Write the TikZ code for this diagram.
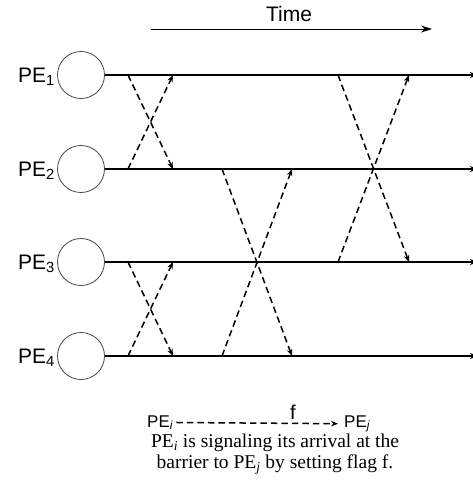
\documentclass[tikz,border=0pt]{standalone}
\usepackage{fontspec}
\setmainfont{Liberation Serif}
\setsansfont{Liberation Sans}
\usetikzlibrary{arrows.meta}
\definecolor{ring}{RGB}{70,70,70}

\begin{document}
\begin{tikzpicture}[x=1pt,y=-1pt,>={Stealth[length=7pt,width=5.5pt]},
  pe/.style={circle,draw=ring,line width=.8pt,minimum size=47pt,inner sep=0pt},
  lbl/.style={font=\sffamily\fontsize{21}{21}\selectfont,inner sep=0pt,anchor=base east},
  proc/.style={line width=1.8pt},
  flag/.style={->,line width=1.5pt,dash pattern=on 6.5pt off 4pt},
  note/.style={font=\fontsize{19.5}{15}\selectfont,inner sep=0pt,anchor=base}]
\useasboundingbox (0,0) rectangle (472,500);
\node[font=\sffamily\fontsize{21}{21}\selectfont,inner sep=0pt,anchor=base] (time) at (289,22) {Time};
\coordinate (t0) at (151,29);
\coordinate (t1) at (432,29);
\draw[-{Stealth[length=11pt,width=7pt]},line width=.8pt] (t0)--(t1);
\foreach \i/\y in {1/75,2/169,3/262,4/356} {
  \node[pe] (pe\i) at (81,\y) {};
  \node[lbl] (lbl\i) at (55,\y+7.5) {PE\textsubscript{\i}};
  \coordinate (end\i) at (478,\y);
  \draw[proc,-{Stealth[length=8pt,width=6pt]}] (pe\i) -- (end\i);
  \coordinate (a\i) at (128,\y);
  \coordinate (b\i) at (173,\y);
  \coordinate (c\i) at (222,\y);
  \coordinate (d\i) at (292,\y);
  \coordinate (e\i) at (338,\y);
  \coordinate (f\i) at (409,\y);
}
\foreach \s/\t in {a1/b2,a2/b1,a3/b4,a4/b3,c2/d4,c4/d2,e1/f3,e3/f1} {\draw[flag] (\s)--(\t);}
\node[font=\sffamily\fontsize{17}{17}\selectfont,inner sep=0pt,anchor=base west] (pei) at (147,427) {PE\textsubscript{\textit{i}}};
\node[font=\sffamily\fontsize{17}{17}\selectfont,inner sep=0pt,anchor=base west] (pej) at (344,427) {PE\textsubscript{\textit{j}}};
\draw[flag] ([xshift=3pt]pei.east) -- ([xshift=-6pt]pej.west);
\node[font=\sffamily\fontsize{20}{20}\selectfont,inner sep=0pt,anchor=base] (f) at (293,419) {f};
\node[note] (note1) at (275,447) {PE\textsubscript{\textit{i}} is signaling its arrival at the};
\node[note] (note2) at (275,468) {barrier to PE\textsubscript{\textit{j}} by setting flag f.};
\end{tikzpicture}
\end{document}
